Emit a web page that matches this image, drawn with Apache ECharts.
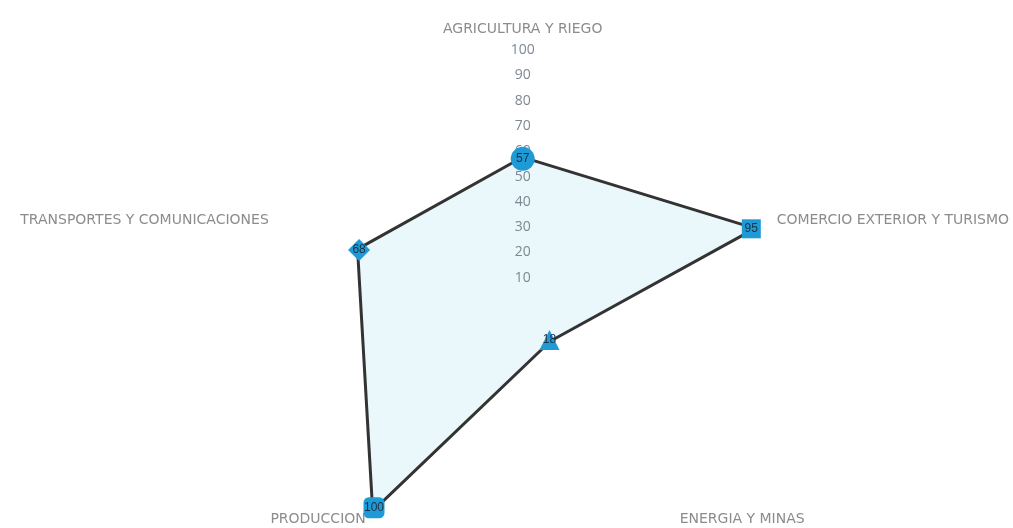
<!DOCTYPE html>
<html>
<head>
<meta charset="utf-8">
<script src="https://cdn.jsdelivr.net/npm/echarts@6/dist/echarts.min.js"></script>
<style>
  html, body { margin: 0; padding: 0; background: #fff; }
  #chart { width: 1013px; height: 528px; }
</style>
</head>
<body>
<div id="chart"></div>
<script>
// indicators listed counter-clockwise from the top, like the radar draws them
const indicatorNames = [
  'AGRICULTURA Y RIEGO',
  'TRANSPORTES Y COMUNICACIONES',
  'PRODUCCION',
  'ENERGIA Y MINAS',
  'COMERCIO EXTERIOR Y TURISMO'
];
const values = [57, 68, 100, 18, 95];
const pointSymbols = ['circle', 'diamond', 'roundRect', 'triangle', 'rect'];
const pointSizes = [24, 22, 21, 20, 19];
const axisMax = 100;

const center = ['51.6%', '57.4%'];
const radius = 253;

const chart = echarts.init(document.getElementById('chart'));

chart.setOption({
  backgroundColor: '#fff',
  radar: {
    center: center,
    radius: radius,
    startAngle: 90,
    splitNumber: 10,
    z: 4,
    indicator: indicatorNames.map((name, i) => ({
      name: name,
      min: 0,
      max: axisMax,
      axisLabel: i === 0 ? { show: true } : { show: false }
    })),
    axisName: {
      color: '#8c8c8c',
      fontSize: 14,
      fontFamily: 'DejaVu Sans'
    },
    nameGap: 14,
    axisLine: { show: false },
    splitLine: { show: false },
    splitArea: { show: false },
    axisTick: { show: false },
    axisLabel: {
      show: false,
      showMinLabel: false,
      color: '#7d8894',
      fontSize: 14,
      fontFamily: 'Open Sans',
      margin: 0,
      align: 'center'
    }
  },
  polar: {
    center: center,
    radius: radius
  },
  angleAxis: {
    type: 'category',
    data: indicatorNames,
    boundaryGap: false,
    startAngle: 90,
    clockwise: false,
    show: false
  },
  radiusAxis: {
    type: 'value',
    min: 0,
    max: axisMax,
    show: false
  },
  series: [
    {
      type: 'radar',
      symbol: 'none',
      z: 2,
      silent: true,
      itemStyle: { color: '#333' },
      lineStyle: { color: '#333', width: 6 },
      areaStyle: { color: '#eaf7fb', opacity: 1 },
      data: [{ value: values }]
    },
    {
      type: 'scatter',
      coordinateSystem: 'polar',
      z: 6,
      itemStyle: { color: '#1e9bd7', opacity: 1 },
      label: {
        show: true,
        position: 'inside',
        color: '#1f2f42',
        fontSize: 12,
        fontFamily: 'Liberation Sans'
      },
      data: values.map((v, i) => ({
        value: [v, indicatorNames[i]],
        symbol: pointSymbols[i],
        symbolSize: pointSizes[i],
        label: { formatter: String(v) }
      }))
    }
  ]
});
</script>
</body>
</html>
